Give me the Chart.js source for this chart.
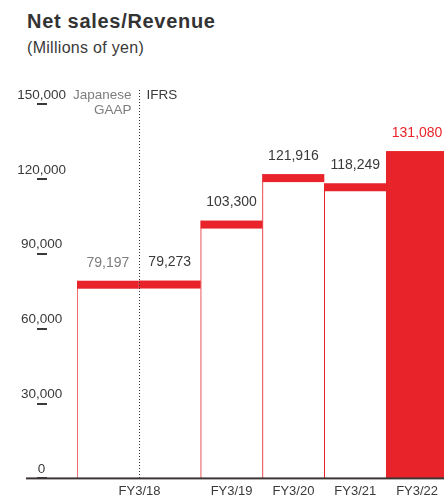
<!DOCTYPE html>
<html>
<head>
<meta charset="utf-8">
<script src="https://cdn.jsdelivr.net/npm/chart.js@4.4.1/dist/chart.umd.min.js"></script>
<style>
    html, body { margin: 0; padding: 0; background: #fff; overflow: hidden; }
    #wrap { position: relative; width: 444px; height: 500px; overflow: hidden; font-family: "Liberation Sans", Arial, Helvetica, sans-serif; }
    .title { position: absolute; left: 27px; top: 11px; font-size: 20px; line-height: 20px; font-weight: bold; color: #333; letter-spacing: 0.7px; white-space: nowrap; }
    .sub { position: absolute; left: 27px; top: 40px; font-size: 16px; line-height: 16px; color: #3a3a3a; letter-spacing: 0.3px; white-space: nowrap; }
    canvas { position: absolute; left: 0; top: 0; }
</style>
</head>
<body>
<div id="wrap">
    <div class="title">Net sales/Revenue</div>
    <div class="sub">(Millions of yen)</div>
    <canvas id="chart" width="460" height="504"></canvas>
</div>
<script>
const categories = ["FY3/18 Japanese GAAP", "FY3/18 IFRS", "FY3/19", "FY3/20", "FY3/21", "FY3/22"]
const tickLabels = ["", "", "FY3/19", "FY3/20", "FY3/21", "FY3/22"]
const sharedLabel = "FY3/18"
const revenue = [79197, 79273, 103300, 121916, 118249, 131080]
const yTicks = [0, 30000, 60000, 90000, 120000, 150000]

const RED = "#E8242A"
const DARK = "#3a3a3a"
const GREY = "#7d7d7d"
const FONT = '"Liberation Sans", Arial, Helvetica, sans-serif'

const fmt = (v) => v.toLocaleString("en-US")

// caps, value labels, the GAAP/IFRS divider and the baseline
const decorations = {
    id: "decorations",
    afterDatasetsDraw(chart) {
        const ctx = chart.ctx
        const area = chart.chartArea
        const bars = chart.getDatasetMeta(0).data
        const y = chart.scales.y

        ctx.save()
        bars.forEach((bar) => {
            ctx.fillStyle = RED
            ctx.fillRect(bar.x - bar.width / 2, bar.y, bar.width, 8)
        })

        ctx.font = "14px " + FONT
        ctx.textAlign = "center"
        ctx.textBaseline = "middle"
        bars.forEach((bar, i) => {
            ctx.fillStyle = i === 0 ? GREY : i === bars.length - 1 ? RED : DARK
            ctx.fillText(fmt(revenue[i]), bar.x, bar.y - 18)
        })

        // dotted divider between the two FY3/18 bars
        const divX = Math.round((bars[0].x + bars[1].x) / 2) + 0.5
        ctx.strokeStyle = "#333"
        ctx.lineWidth = 1
        ctx.setLineDash([1, 2])
        ctx.beginPath()
        ctx.moveTo(divX, 90)
        ctx.lineTo(divX, area.bottom)
        ctx.stroke()
        ctx.setLineDash([])

        ctx.font = "13.5px " + FONT
        ctx.textAlign = "right"
        ctx.fillStyle = GREY
        ctx.fillText("Japanese", divX - 8, 95)
        ctx.fillText("GAAP", divX - 8, 110)
        ctx.textAlign = "left"
        ctx.fillStyle = DARK
        ctx.fillText("IFRS", divX + 7, 95)

        // short dashes under the y labels
        ctx.fillStyle = DARK
        yTicks.forEach((v) => {
            const py = Math.round(y.getPixelForValue(v))
            ctx.fillRect(37, py - 1, 10, 2)
        })

        // baseline
        ctx.fillStyle = "#3d3535"
        ctx.fillRect(26, area.bottom - 1, chart.width, 2)

        // shared FY3/18 label
        ctx.font = "13px " + FONT
        ctx.textAlign = "center"
        ctx.fillStyle = DARK
        ctx.fillText(sharedLabel, divX, area.bottom + 13.5)
        ctx.restore()
    },
}

new Chart(document.getElementById("chart").getContext("2d"), {
    type: "bar",
    data: {
        labels: categories,
        datasets: [
            {
                data: revenue,
                backgroundColor: (c) => (c.dataIndex === revenue.length - 1 ? RED : "#fff"),
                borderColor: RED,
                borderWidth: (c) => (c.dataIndex === 1 ? 0 : { left: 1, right: 0, top: 0, bottom: 0 }),
                borderSkipped: false,
                barPercentage: 1,
                categoryPercentage: 1,
            },
        ],
    },
    plugins: [decorations],
    options: {
        responsive: false,
        animation: false,
        layout: {
            padding: {
                top: 104,
                right: 12,
                left: 0,
                bottom: 0,
            },
        },
        plugins: {
            legend: { display: false },
            tooltip: { enabled: false },
        },
        scales: {
            x: {
                border: { display: false },
                grid: { display: false, drawTicks: false },
                ticks: {
                    color: DARK,
                    padding: 5,
                    font: { size: 13, family: FONT },
                    maxRotation: 0,
                    autoSkip: false,
                    callback: (v, i) => tickLabels[i],
                },
            },
            y: {
                min: 0,
                max: 150000,
                afterBuildTicks: (s) => {
                    s.ticks = yTicks.map((v) => ({ value: v }))
                },
                afterFit: (s) => {
                    s.width = 77
                },
                border: { display: false },
                grid: { display: false, drawTicks: false },
                ticks: {
                    color: DARK,
                    crossAlign: "center",
                    padding: 11,
                    labelOffset: -9,
                    font: { size: 13.5, family: FONT },
                    callback: (v) => fmt(v),
                },
            },
        },
    },
});
</script>
</body>
</html>
